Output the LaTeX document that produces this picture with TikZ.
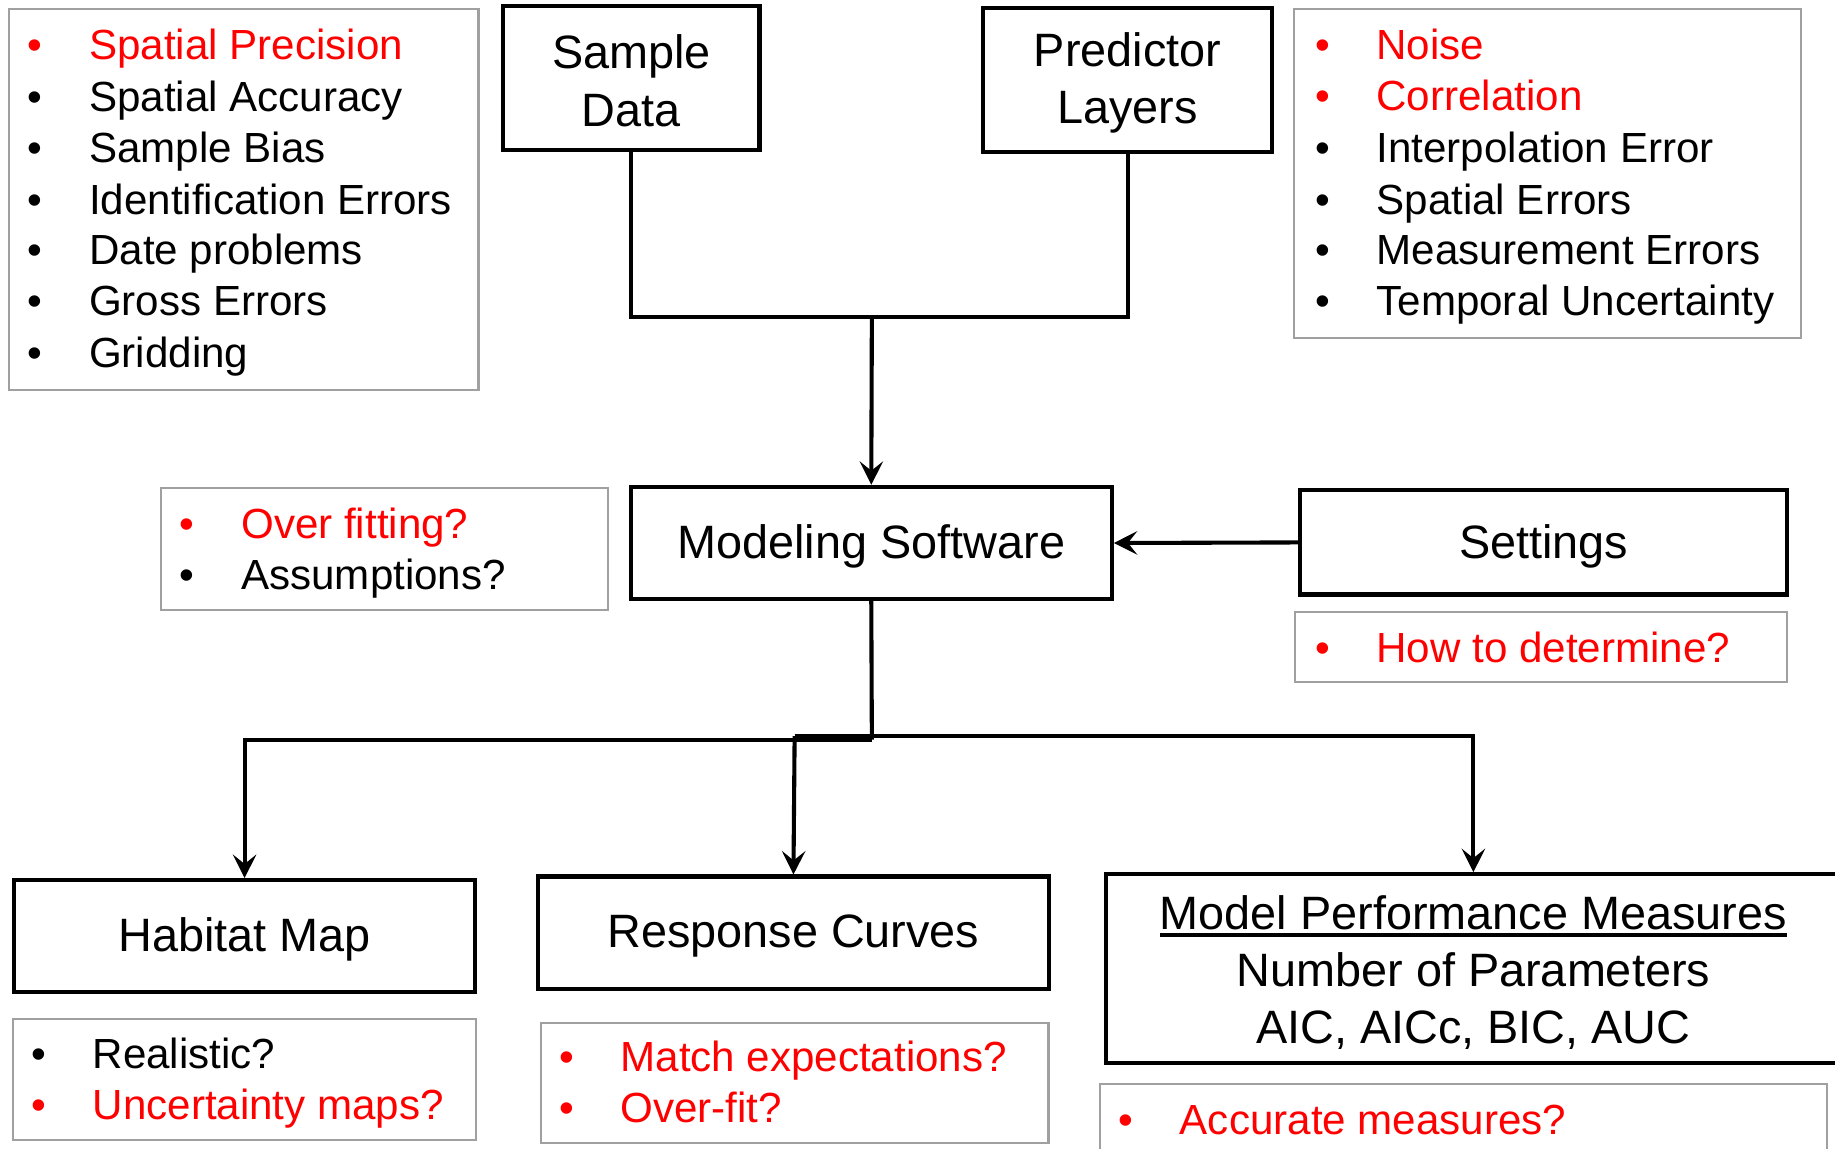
\documentclass[tikz,border=0pt]{standalone}
\usepackage{fontspec}
\setmainfont{Liberation Sans}
\usetikzlibrary{arrows.meta}
\definecolor{ired}{RGB}{255,0,0}
\definecolor{lgray}{RGB}{160,160,160}
\tikzset{
  bigbox/.style={draw=black, line width=3.5pt, inner sep=0pt},
  bigtext/.style={inner sep=0pt, align=center, font=\fontsize{40}{49}\selectfont},
  listbox/.style={draw=lgray, line width=1.8pt, inner sep=0pt, anchor=north west},
  bul/.style={anchor=base, font=\fontsize{36}{44}\selectfont, inner sep=0pt},
  itemtext/.style={anchor=base west, font=\fontsize{36}{44}\selectfont, inner sep=0pt},
  conn/.style={line width=3.5pt},
  arr/.style={conn, -{Stealth[length=20pt,width=20pt,inset=8pt]}},
}
\newcommand{\myitem}[5]{%
  \node[bul,text=#4] (#1b) at (#2,#3+13) {•};
  \node[itemtext,text=#4] (#1t) at (#2+46,#3+13) {#5};}
\newcommand{\thickul}[1]{\leavevmode\vtop{\hbox{#1}\kern3pt\hrule height 3pt}}
\begin{document}
\begin{tikzpicture}[x=1pt,y=-1pt]
\useasboundingbox[fill=white] (0,0) rectangle (1568,981);

% main boxes
\node[bigbox, minimum width=219, minimum height=123] (samp) at (539.5,66.5) {};
\node[bigbox, minimum width=247, minimum height=123] (pred) at (963.5,68.5) {};
\node[bigbox, minimum width=411, minimum height=96] (mod) at (744.5,464) {};
\node[bigbox, minimum width=416, minimum height=89] (set) at (1319,463.5) {};
\node[bigbox, minimum width=394, minimum height=96] (hab) at (209,800) {};
\node[bigbox, minimum width=436, minimum height=96] (resp) at (678,797) {};
\node[bigbox, minimum width=628, minimum height=161] (mpm) at (1259,827.5) {};

\node[bigtext] (sampt) at ([yshift=-2.5pt]samp.center) {Sample\\Data};
\node[bigtext] (predt) at ([yshift=-2.5pt]pred.center) {Predictor\\Layers};
\node[bigtext] (modt) at ([yshift=-3pt]mod.center) {Modeling Software};
\node[bigtext] (sett) at ([yshift=-3pt]set.center) {Settings};
\node[bigtext] (habt) at ([yshift=-3pt]hab.center) {Habitat Map};
\node[bigtext] (respt) at ([yshift=-3pt]resp.center) {Response Curves};
\node[bigtext] (mpmt) at ([yshift=-3.5pt]mpm.center)
  {\thickul{Model Performance Measures}\\Number of Parameters\\AIC, AICc, BIC, AUC};

% list boxes
\node[listbox, minimum width=401, minimum height=325] (lb1) at (7,7) {};
\node[listbox, minimum width=433, minimum height=281] (lb2) at (1105,7) {};
\node[listbox, minimum width=382, minimum height=104] (lb3) at (137,416) {};
\node[listbox, minimum width=420, minimum height=60] (lb4) at (1106,522) {};
\node[listbox, minimum width=396, minimum height=103] (lb5) at (10,870) {};
\node[listbox, minimum width=434, minimum height=103] (lb6) at (461,873) {};
\node[listbox, minimum width=621, minimum height=80] (lb7) at (939,925) {};

% items
\myitem{a1}{30}{38}{ired}{Spatial Precision}
\myitem{a2}{30}{82}{black}{Spatial Accuracy}
\myitem{a3}{30}{126}{black}{Sample Bias}
\myitem{a4}{30}{170}{black}{Identification Errors}
\myitem{a5}{30}{213}{black}{Date problems}
\myitem{a6}{30}{257}{black}{Gross Errors}
\myitem{a7}{30}{301}{black}{Gridding}

\myitem{c1}{1130}{38}{ired}{Noise}
\myitem{c2}{1130}{81}{ired}{Correlation}
\myitem{c3}{1130}{126}{black}{Interpolation Error}
\myitem{c4}{1130}{170}{black}{Spatial Errors}
\myitem{c5}{1130}{213}{black}{Measurement Errors}
\myitem{c6}{1130}{257}{black}{Temporal Uncertainty}

\myitem{d1}{160}{447}{ired}{Over fitting?}
\myitem{d2}{160}{491}{black}{Assumptions?}

\myitem{e1}{1130}{553}{ired}{How to determine?}

\myitem{f1}{33}{900}{black}{Realistic?}
\myitem{f2}{33}{944}{ired}{Uncertainty maps?}

\myitem{g1}{484}{903}{ired}{Match expectations?}
\myitem{g2}{484}{946}{ired}{Over-fit?}

\myitem{h1}{962}{956}{ired}{Accurate measures?}

% connectors
\coordinate (j1) at (745,271);
\draw[conn] (samp.south) |- (j1) -| (pred.south);
\draw[arr] (j1) -- (mod.north);
\draw[arr] (set.west) -- (mod.east);
\coordinate (jL) at (745,632);
\coordinate (jR) at (679,629);
\draw[conn] (mod.south) -- (jL);
\draw[arr] (jL) -| (hab.north);
\draw[arr] (jR) -- (resp.north);
\draw[arr] (jR) -| (mpm.north);
\end{tikzpicture}
\end{document}
